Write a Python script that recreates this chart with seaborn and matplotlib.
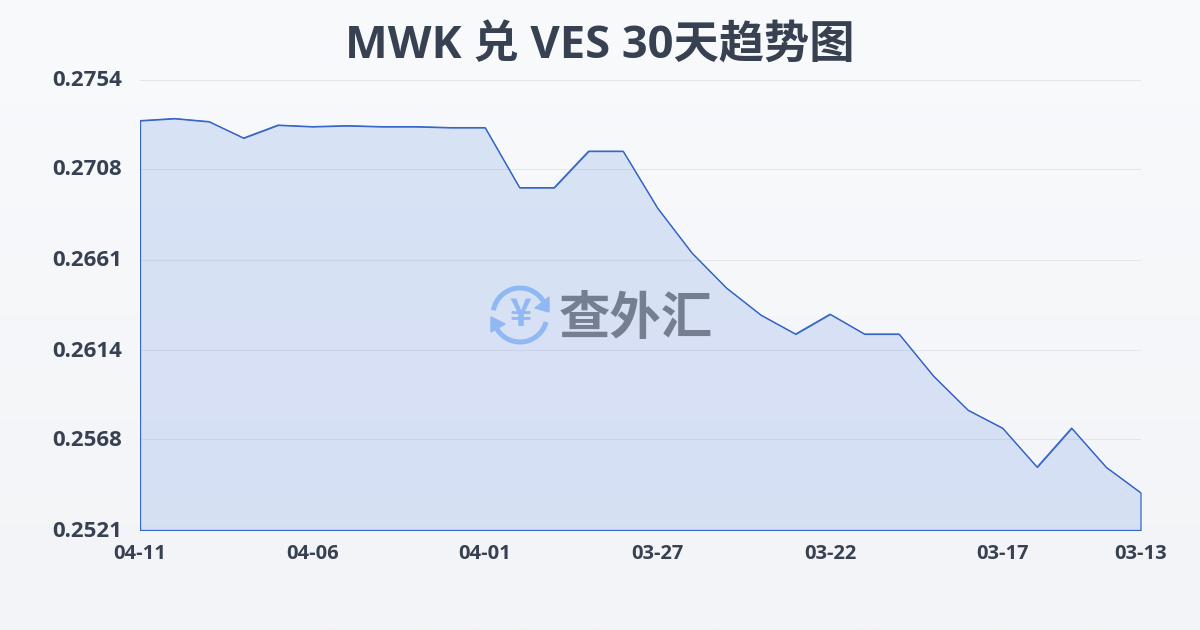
import numpy as np
import matplotlib
matplotlib.use('Agg')
import matplotlib.pyplot as plt
from matplotlib.patches import Arc, Polygon
from matplotlib.transforms import ScaledTranslation
import seaborn as sns
import pandas as pd

# 30 days, newest on the left
days = list(range(30))
rates = [0.27330, 0.27341, 0.27325, 0.27240, 0.27307, 0.27299, 0.27304, 0.27299, 0.27299, 0.27294,
         0.27294, 0.26983, 0.26983, 0.27172, 0.27172, 0.26877, 0.26644, 0.26463, 0.26323, 0.26225,
         0.26328, 0.26225, 0.26225, 0.26007, 0.25831, 0.25738, 0.25536, 0.25738, 0.25536, 0.25404]
tick_days = [0, 5, 10, 15, 20, 25, 29]
tick_dates = ['04-11', '04-06', '04-01', '03-27', '03-22', '03-17', '03-13']
y_ticks = [0.2521, 0.2568, 0.2614, 0.2661, 0.2708, 0.2754]
title = 'MWK 兑 VES 30天趋势图'

sns.set_theme(style='white')
plt.rcParams['font.family'] = ['Open Sans', 'Noto Sans CJK SC', 'DejaVu Sans']
df = pd.DataFrame({'day': days, 'rate': rates})

text_color = '#374151'
line_color = '#3566c8'

fig = plt.figure(figsize=(12, 6.3), dpi=100)

# 背景 그라데이션
bg = fig.add_axes([0, 0, 1, 1], zorder=-1)
grad = np.linspace(0, 1, 256).reshape(-1, 1)
top, bottom = np.array([249, 250, 252]) / 255, np.array([243, 244, 247]) / 255
bg.imshow((top + (bottom - top) * grad).reshape(256, 1, 3), aspect='auto')
bg.axis('off')

ax = fig.add_axes([140 / 1200, 1 - 530 / 630, 1000.5 / 1200, 450 / 630])
ax.patch.set_alpha(0)
ax.fill_between(df['day'], df['rate'], y_ticks[0], facecolor=(0.23, 0.45, 0.88, 0.16),
                edgecolor=line_color, linewidth=0.9, zorder=2)
sns.lineplot(data=df, x='day', y='rate', ax=ax, color=line_color, linewidth=0.8, zorder=3)

ax.set_xlim(0, 29)
ax.set_ylim(0.2521, 0.2754)
ax.set_xticks(tick_days)
ax.set_xticklabels(tick_dates, fontsize=14.5, fontweight='bold', color=text_color)
ax.set_yticks(y_ticks)
ax.set_yticklabels([f'{v:.4f}' for v in y_ticks], fontsize=16, fontweight='bold', color=text_color)
ax.set_xlabel('')
ax.set_ylabel('')
ax.grid(axis='y', color='#e3e6ec', linewidth=0.8, zorder=1)
ax.set_axisbelow(True)
ax.tick_params(axis='x', length=9, width=0.8, color='#e3e6ec', pad=1)
ax.tick_params(axis='y', length=0, pad=13)
# y 라벨을 살짝 위로
shift = ScaledTranslation(0, 1.5 / 100, fig.dpi_scale_trans)
for lab in ax.get_yticklabels():
    lab.set_transform(lab.get_transform() + shift)
sns.despine(ax=ax, left=True, bottom=True, right=True, top=True)

fig.text(600 / 1200, 1 - 47 / 630, title, ha='center', va='center', fontsize=32.6,
         fontweight='bold', color=text_color)

# 워터마크 로고 (pixel coordinates)
logo = fig.add_axes([0, 0, 1, 1], zorder=5)
logo.set_xlim(0, 1200)
logo.set_ylim(630, 0)
logo.axis('off')
blue = '#8fb8f5'
logo.add_patch(Arc((520, 315), 54, 54, theta1=190, theta2=335, color=blue, linewidth=3.6))
logo.add_patch(Arc((520, 315), 54, 54, theta1=15, theta2=155, color=blue, linewidth=3.6))
logo.add_patch(Polygon([[549, 297], [549, 312], [535, 308]], color=blue))
logo.add_patch(Polygon([[491, 317], [491, 332], [505, 324]], color=blue))
logo.text(520, 315, '¥', ha='center', va='center', fontsize=27, fontweight='bold', color=blue,
          family=['Noto Sans CJK SC'])
logo.text(635.5, 321, '查外汇', ha='center', va='center', fontsize=37, fontweight='bold', color='#767f91')

fig.savefig('out.png', dpi=100)
